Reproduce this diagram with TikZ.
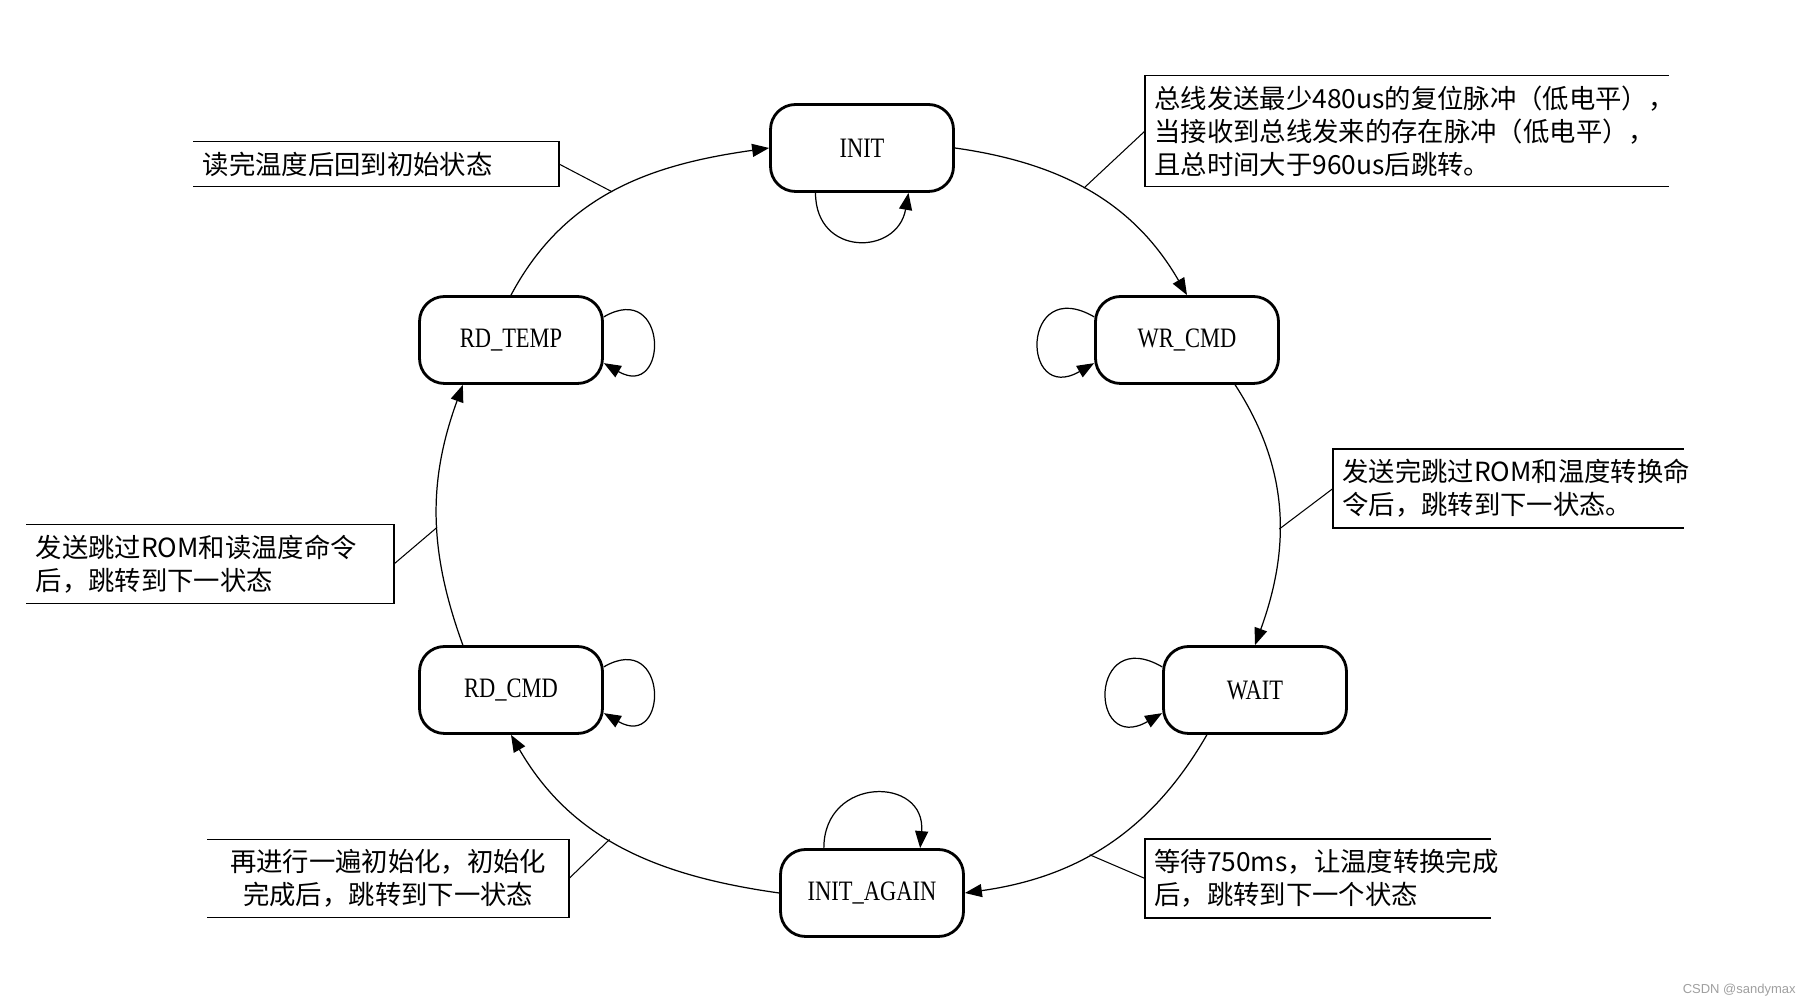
\documentclass[tikz,border=0pt]{standalone}
\usepackage{fontspec}
\setmainfont{Liberation Serif}
\newfontfamily\cjk{Noto Sans CJK SC}
\newfontfamily\statefont[FakeStretch=0.8]{Liberation Serif}
\newfontfamily\marksans{Liberation Sans}
\usetikzlibrary{arrows.meta}

\begin{document}
\begin{tikzpicture}[x=0.02cm,y=0.02cm,
  state/.style={draw,line width=1.6pt,rounded corners=0.5cm,minimum width=3.66cm,
    minimum height=1.74cm,inner sep=0pt,font=\statefont\fontsize{16}{19}\selectfont},
  edge/.style={line width=0.7pt,-{Triangle[length=0.34cm,width=0.26cm]}},
  note/.style={inner xsep=0.18cm,inner ysep=0.2cm,font=\cjk\fontsize{15}{18.7}\selectfont},
  bracket/.style={line width=0.8pt}]

  \useasboundingbox (0,0) rectangle (1812,1006);

  \foreach \n/\t/\x/\y in {init/INIT/862/858, wr/WR\_CMD/1187/666, wait/WAIT/1255/316,
      again/INIT\_AGAIN/872/113, rdcmd/RD\_CMD/511/316, rdtemp/RD\_TEMP/511/666} {
    \node[state] (\n) at (\x,\y) {\t};
  }

  % main cycle
  \draw[edge] (init.east) to[out=-8,in=120] coordinate[pos=0.47] (p1) (wr.north);
  \draw[edge] (wr.-43) to[out=-57,in=70] coordinate[pos=0.57] (p2) (wait.north);
  \draw[edge] (wait.-137) to[out=-120,in=8] coordinate[pos=0.57] (p3) (again.east);
  \draw[edge] (again.west) to[out=172,in=-60] coordinate[pos=0.55] (p4) (rdcmd.south);
  \draw[edge] (rdcmd.137) to[out=110,in=-110] coordinate[pos=0.45] (p5) (rdtemp.-137);
  \draw[edge] (rdtemp.north) to[out=62,in=188] coordinate[pos=0.48] (p6) (init.west);

  % self loops
  \draw[edge] (init.-136) to[out=-90,in=-100,distance=1.28cm] (init.-44);
  \draw[edge] (again.137) to[out=90,in=85,distance=1.45cm] (again.43);
  \foreach \n in {wr,wait}
    \draw[edge] (\n.166) to[out=150,in=-150,distance=1.7cm] (\n.194);
  \foreach \n in {rdtemp,rdcmd}
    \draw[edge] (\n.14) to[out=30,in=-30,distance=1.5cm] (\n.-14);

  % notes
  \node[note,anchor=west,text width=10.1cm,align=left] (n1) at (1145,875)
    {总线发送最少480us的复位脉冲（低电平），\\当接收到总线发来的存在脉冲（低电平），\\且总时间大于960us后跳转。};
  \node[note,anchor=west,text width=6.64cm,align=left] (n2) at (1333,517.5)
    {发送完跳过ROM和温度转换命\\令后，跳转到下一状态。};
  \node[note,anchor=west,text width=6.54cm,align=left] (n3) at (1145,127.5)
    {等待750ms，让温度转换完成\\后，跳转到下一个状态};
  \node[note,anchor=east,text width=6.86cm,align=center] (n4) at (569,127.5)
    {再进行一遍初始化，初始化\\完成后，跳转到下一状态};
  \node[note,anchor=east,text width=6.98cm,align=left] (n5) at (394,442)
    {发送跳过ROM和读温度命令\\后，跳转到下一状态};
  \node[note,anchor=east,text width=6.94cm,align=left] (n6) at (559,842)
    {读完温度后回到初始状态};

  \foreach \n in {n1,n2,n3}
    \draw[bracket] (\n.north east) -- (\n.north west) -- (\n.south west) -- (\n.south east);
  \foreach \n in {n4,n5,n6}
    \draw[bracket] (\n.north west) -- (\n.north east) -- (\n.south east) -- (\n.south west);

  \foreach \n/\p in {n1/p1,n2/p2,n3/p3}
    \draw[line width=0.6pt] (\n.west) -- (\p);
  \foreach \n/\p in {n4/p4,n5/p5,n6/p6}
    \draw[line width=0.6pt] (\n.east) -- (\p);

  \node[anchor=east,inner sep=0pt,text=gray!75,font=\marksans\fontsize{7.4}{9}\selectfont]
    (mark) at (1796,16) {CSDN @sandymax};

\end{tikzpicture}
\end{document}
